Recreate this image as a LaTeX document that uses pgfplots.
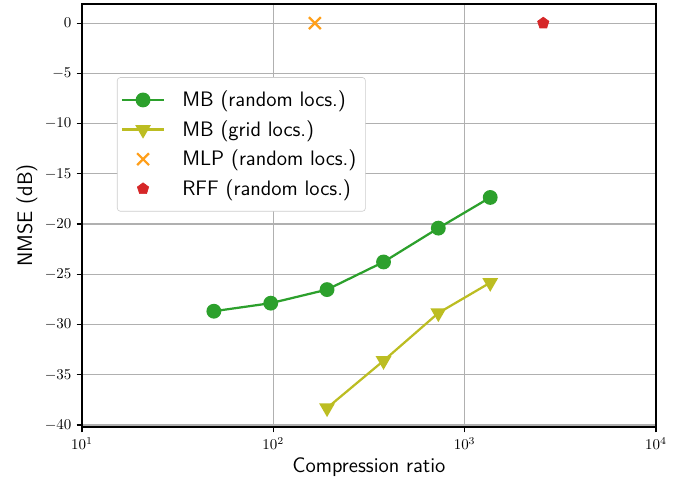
\documentclass[border=0pt]{standalone}
\usepackage{pgfplots}
\pgfplotsset{compat=1.18}
\usetikzlibrary{plotmarks}

\definecolor{mbgreen}{HTML}{2CA02C}
\definecolor{mbolive}{HTML}{BCBD22}
\definecolor{mlporange}{HTML}{FF9F1A}
\definecolor{rffred}{HTML}{D62728}
\definecolor{gridgray}{HTML}{B0B0B0}
\definecolor{legframe}{HTML}{CCCCCC}

\begin{document}
\begin{tikzpicture}
% page size fixed to the reference proportions (axis box at origin)
\path[use as bounding box] (-54.8pt,-35.4pt) rectangle (405.8pt,285.5pt);
\begin{axis}[
  scale only axis,
  width=383.7pt, height=282.8pt,
  xmode=log, log basis x=10,
  xmin=10, xmax=10000,
  ymin=-40.2, ymax=1.9,
  ytick={-40,-35,...,0},
  xtick={10,100,1000,10000},
  tick pos=left,
  tick align=outside,
  major tick length=3.5pt,
  minor tick length=2pt,
  every tick/.style={black, line width=0.8pt},
  minor tick style={black, line width=0.6pt},
  axis line style={line width=0.8pt},
  grid=major,
  major grid style={gridgray, line width=0.8pt},
  tick label style={font=\fontsize{10.4}{12}\selectfont},
  label style={font=\fontsize{14}{16}\sffamily},
  xlabel={Compression ratio},
  ylabel={NMSE (dB)},
  xlabel style={at={(axis description cs:0.5,-0.094)}, anchor=center},
  ylabel style={at={(axis description cs:-0.096,0.5)}, anchor=center},
  legend style={
    at={(axis description cs:0.061,0.827)}, anchor=north west,
    draw=legframe, rounded corners=2pt, fill=white,
    font=\fontsize{14}{16}\sffamily,
    row sep=3.8pt, inner xsep=1pt, inner ysep=7pt,
    nodes={inner xsep=5pt},
  },
  legend cell align=left,
  legend image code/.code={
    \path[draw=none, fill=none] (-2pt,0pt) -- (1cm+7pt,0pt);
    \draw[mark repeat=2, mark phase=2, #1]
      plot coordinates {(0cm,0cm) (0.5cm,0cm) (1cm,0cm)};
  },
]

\addplot[mbgreen, line width=1.5pt, mark=*, mark size=4.2pt,
  mark options={solid, fill=mbgreen, draw=mbgreen}]
  coordinates {
  (48.9,-28.67) (97,-27.87) (191,-26.52) (377,-23.77) (729,-20.40) (1361,-17.35)
};
\addlegendentry{MB (random locs.)}

\addplot[mbolive, line width=1.5pt, mark=triangle*, mark size=4.6pt,
  mark options={solid, rotate=180, fill=mbolive, draw=mbolive}]
  coordinates {
  (191,-38.3) (377,-33.6) (729,-28.85) (1361,-25.83)
};
\addlegendentry{MB (grid locs.)}

\addplot[only marks, mlporange, mark=x, mark size=5.6pt,
  mark options={line width=1.5pt}]
  coordinates {(165,0)};
\addlegendentry{MLP (random locs.)}

\addplot[only marks, rffred, mark=pentagon*, mark size=4pt,
  mark options={fill=rffred, draw=rffred}]
  coordinates {(2577,0)};
\addlegendentry{RFF (random locs.)}

\end{axis}
\end{tikzpicture}
\end{document}
